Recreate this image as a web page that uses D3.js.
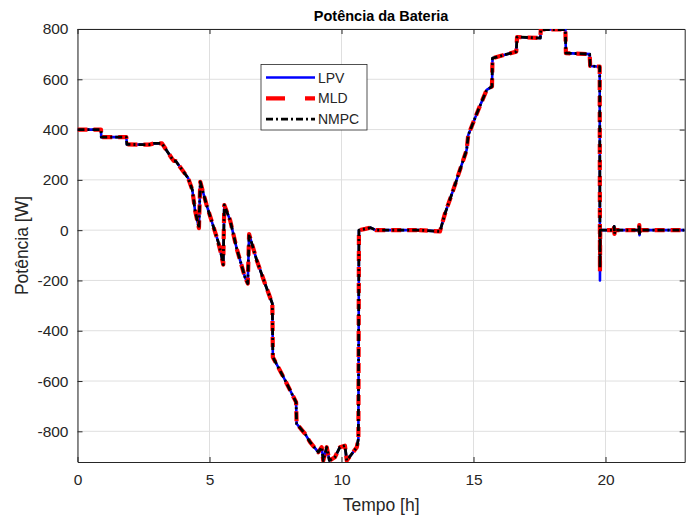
<!DOCTYPE html>
<html>
<head>
<meta charset="utf-8">
<script src="https://cdn.jsdelivr.net/npm/d3@7"></script>
<style>
  body { margin: 0; background: #fff; }
  text { font-family: "Liberation Sans", Arial, sans-serif; fill: #262626; }
</style>
</head>
<body>
<script>
// tempo [h] shared by the three controllers
var tempo = [0,0.89,0.9,1.85,1.87,2.7,2.9,3.2,3.57,3.65,3.72,4.19,4.35,4.45,4.6,4.65,4.89,5.33,5.45,5.52,5.56,5.78,6.03,6.34,6.45,6.5,6.79,7.1,7.38,7.4,7.8,8.28,8.3,8.62,8.81,9.12,9.25,9.31,9.44,9.54,9.75,9.94,10.13,10.2,10.39,10.58,10.64,10.66,10.9,11.1,11.3,12,12.85,12.9,12.95,13.73,13.92,14.23,14.74,14.8,15.18,15.5,15.7,15.72,16.62,16.65,17.53,17.55,18.48,18.5,19.4,19.42,19.78,19.79,19.8,20.3,20.33,20.34,20.36,21.26,21.28,21.29,21.31,23];

var lpv = [400,400,370,370,341,340,345,345,286,275,275,207,160,80,8,192,100,-47,-100,-137,100,40,-73,-186,-212,-16,-120,-212,-292,-505,-584,-684,-770,-810,-843,-883,-863,-916,-863,-916,-903,-863,-857,-916,-890,-863,-830,0,5,10,0,0,0,0,0,-5,66,159,319,378,478,558,571,684,710,768,764,798,798,704,700,653,650,-200,0,0,15,-15,0,0,20,-20,0,0];

var mld = [400,400,370,370,341,340,345,345,286,275,275,207,160,80,8,192,100,-47,-100,-137,100,40,-73,-186,-212,-16,-120,-212,-292,-505,-584,-684,-770,-810,-843,-883,-863,-916,-863,-916,-903,-863,-857,-916,-890,-863,-830,0,5,10,0,0,0,15,0,-5,66,159,319,378,478,558,571,684,710,768,764,798,798,704,700,653,650,-165,0,0,15,-15,0,0,20,-20,0,0];

var nmpc = [400,400,370,370,341,340,345,345,286,275,275,207,160,80,8,192,100,-47,-100,-137,100,40,-73,-186,-212,-16,-120,-212,-292,-505,-584,-684,-770,-810,-843,-883,-863,-916,-863,-916,-903,-863,-857,-916,-890,-863,-830,0,5,10,0,0,0,0,0,-5,66,159,319,378,478,558,571,684,710,768,764,798,798,704,700,653,650,-150,0,0,15,-15,0,0,20,-20,0,0];

var xTicks = [0,5,10,15,20];
var yTicks = [-800,-600,-400,-200,0,200,400,600,800];
var seriesNames = ["LPV","MLD","NMPC"];

draw();

function draw() {
  var W = 686, H = 517;
  var mL = 77.5, mR = 684.7, mT = 29, mB = 462;

  var x = d3.scaleLinear().domain([0,23]).range([mL,mR]);
  var y = d3.scaleLinear().domain([-922,800]).range([mB,mT]);

  var svg = d3.select("body").append("svg")
    .attr("width", W).attr("height", H);

  // grid
  svg.append("g").selectAll("line").data(xTicks).enter().append("line")
    .attr("x1", d => x(d)).attr("x2", d => x(d))
    .attr("y1", mT).attr("y2", mB)
    .attr("stroke", "#dfdfdf").attr("stroke-width", 1);
  svg.append("g").selectAll("line").data(yTicks).enter().append("line")
    .attr("x1", mL).attr("x2", mR)
    .attr("y1", d => y(d)).attr("y2", d => y(d))
    .attr("stroke", "#dfdfdf").attr("stroke-width", 1);

  // axes (plain hyphen for negatives, like matlab)
  var fmt = d => String(d);
  svg.append("g").attr("transform", "translate(0," + mB + ")")
    .call(d3.axisBottom(x).tickValues(xTicks).tickFormat(fmt).tickSizeInner(-5).tickSizeOuter(0).tickPadding(12));
  svg.append("g").attr("transform", "translate(" + mL + ",0)")
    .call(d3.axisLeft(y).tickValues(yTicks).tickFormat(fmt).tickSizeInner(-5).tickSizeOuter(0).tickPadding(9));
  svg.append("g").attr("transform", "translate(0," + mT + ")")
    .call(d3.axisTop(x).tickValues(xTicks).tickSizeInner(-5).tickSizeOuter(0).tickFormat(""));
  svg.append("g").attr("transform", "translate(" + mR + ",0)")
    .call(d3.axisRight(y).tickValues(yTicks).tickSizeInner(-5).tickSizeOuter(0).tickFormat(""));
  svg.selectAll(".domain, .tick line").attr("stroke", "#262626");
  svg.selectAll(".tick text").attr("font-size", "15.5px").attr("fill", "#262626")
    .style("font-family", "Liberation Sans, Arial, sans-serif");

  // curves
  svg.append("clipPath").attr("id", "clip").append("rect")
    .attr("x", mL).attr("y", mT).attr("width", mR - mL).attr("height", mB - mT);

  var line = d3.line().x((d, i) => x(tempo[i])).y(d => y(d));
  var styles = [
    { data: lpv, color: "#0000ff", width: 2.6, dash: null },
    { data: mld, color: "#ff0000", width: 4.2, dash: "10,6" },
    { data: nmpc, color: "#000000", width: 2.8, dash: "7,3,2,3" }
  ];
  var plot = svg.append("g").attr("clip-path", "url(#clip)");
  styles.forEach(function (s) {
    plot.append("path").datum(s.data)
      .attr("d", line)
      .attr("fill", "none")
      .attr("stroke", s.color)
      .attr("stroke-width", s.width)
      .attr("stroke-dasharray", s.dash)
      .attr("stroke-linejoin", "round");
  });

  // legend
  var lg = svg.append("g");
  lg.append("rect").attr("x", 261).attr("y", 64.5).attr("width", 106).attr("height", 65.5)
    .attr("fill", "#fff").attr("stroke", "#262626").attr("stroke-width", 0.8);
  styles.forEach(function (s, i) {
    var ly = 77.5 + i * 20.8;
    lg.append("line").attr("x1", 266).attr("x2", 315).attr("y1", ly).attr("y2", ly)
      .attr("stroke", s.color).attr("stroke-width", s.width)
      .attr("stroke-dasharray", i == 1 ? "19,20,10" : s.dash);
    lg.append("text").attr("x", 318).attr("y", ly + 5).attr("font-size", "14px")
      .text(seriesNames[i]);
  });

  // labels
  svg.append("text").attr("x", (mL + mR) / 2).attr("y", 21)
    .attr("text-anchor", "middle").attr("font-size", "14.5px").attr("font-weight", "bold")
    .style("fill", "#000")
    .text("Potência da Bateria");
  svg.append("text").attr("x", (mL + mR) / 2).attr("y", 511)
    .attr("text-anchor", "middle").attr("font-size", "17.5px")
    .text("Tempo [h]");
  svg.append("text").attr("transform", "translate(28," + ((mT + mB) / 2) + ") rotate(-90)")
    .attr("text-anchor", "middle").attr("font-size", "17.5px")
    .text("Potência [W]");
}
</script>
</body>
</html>
